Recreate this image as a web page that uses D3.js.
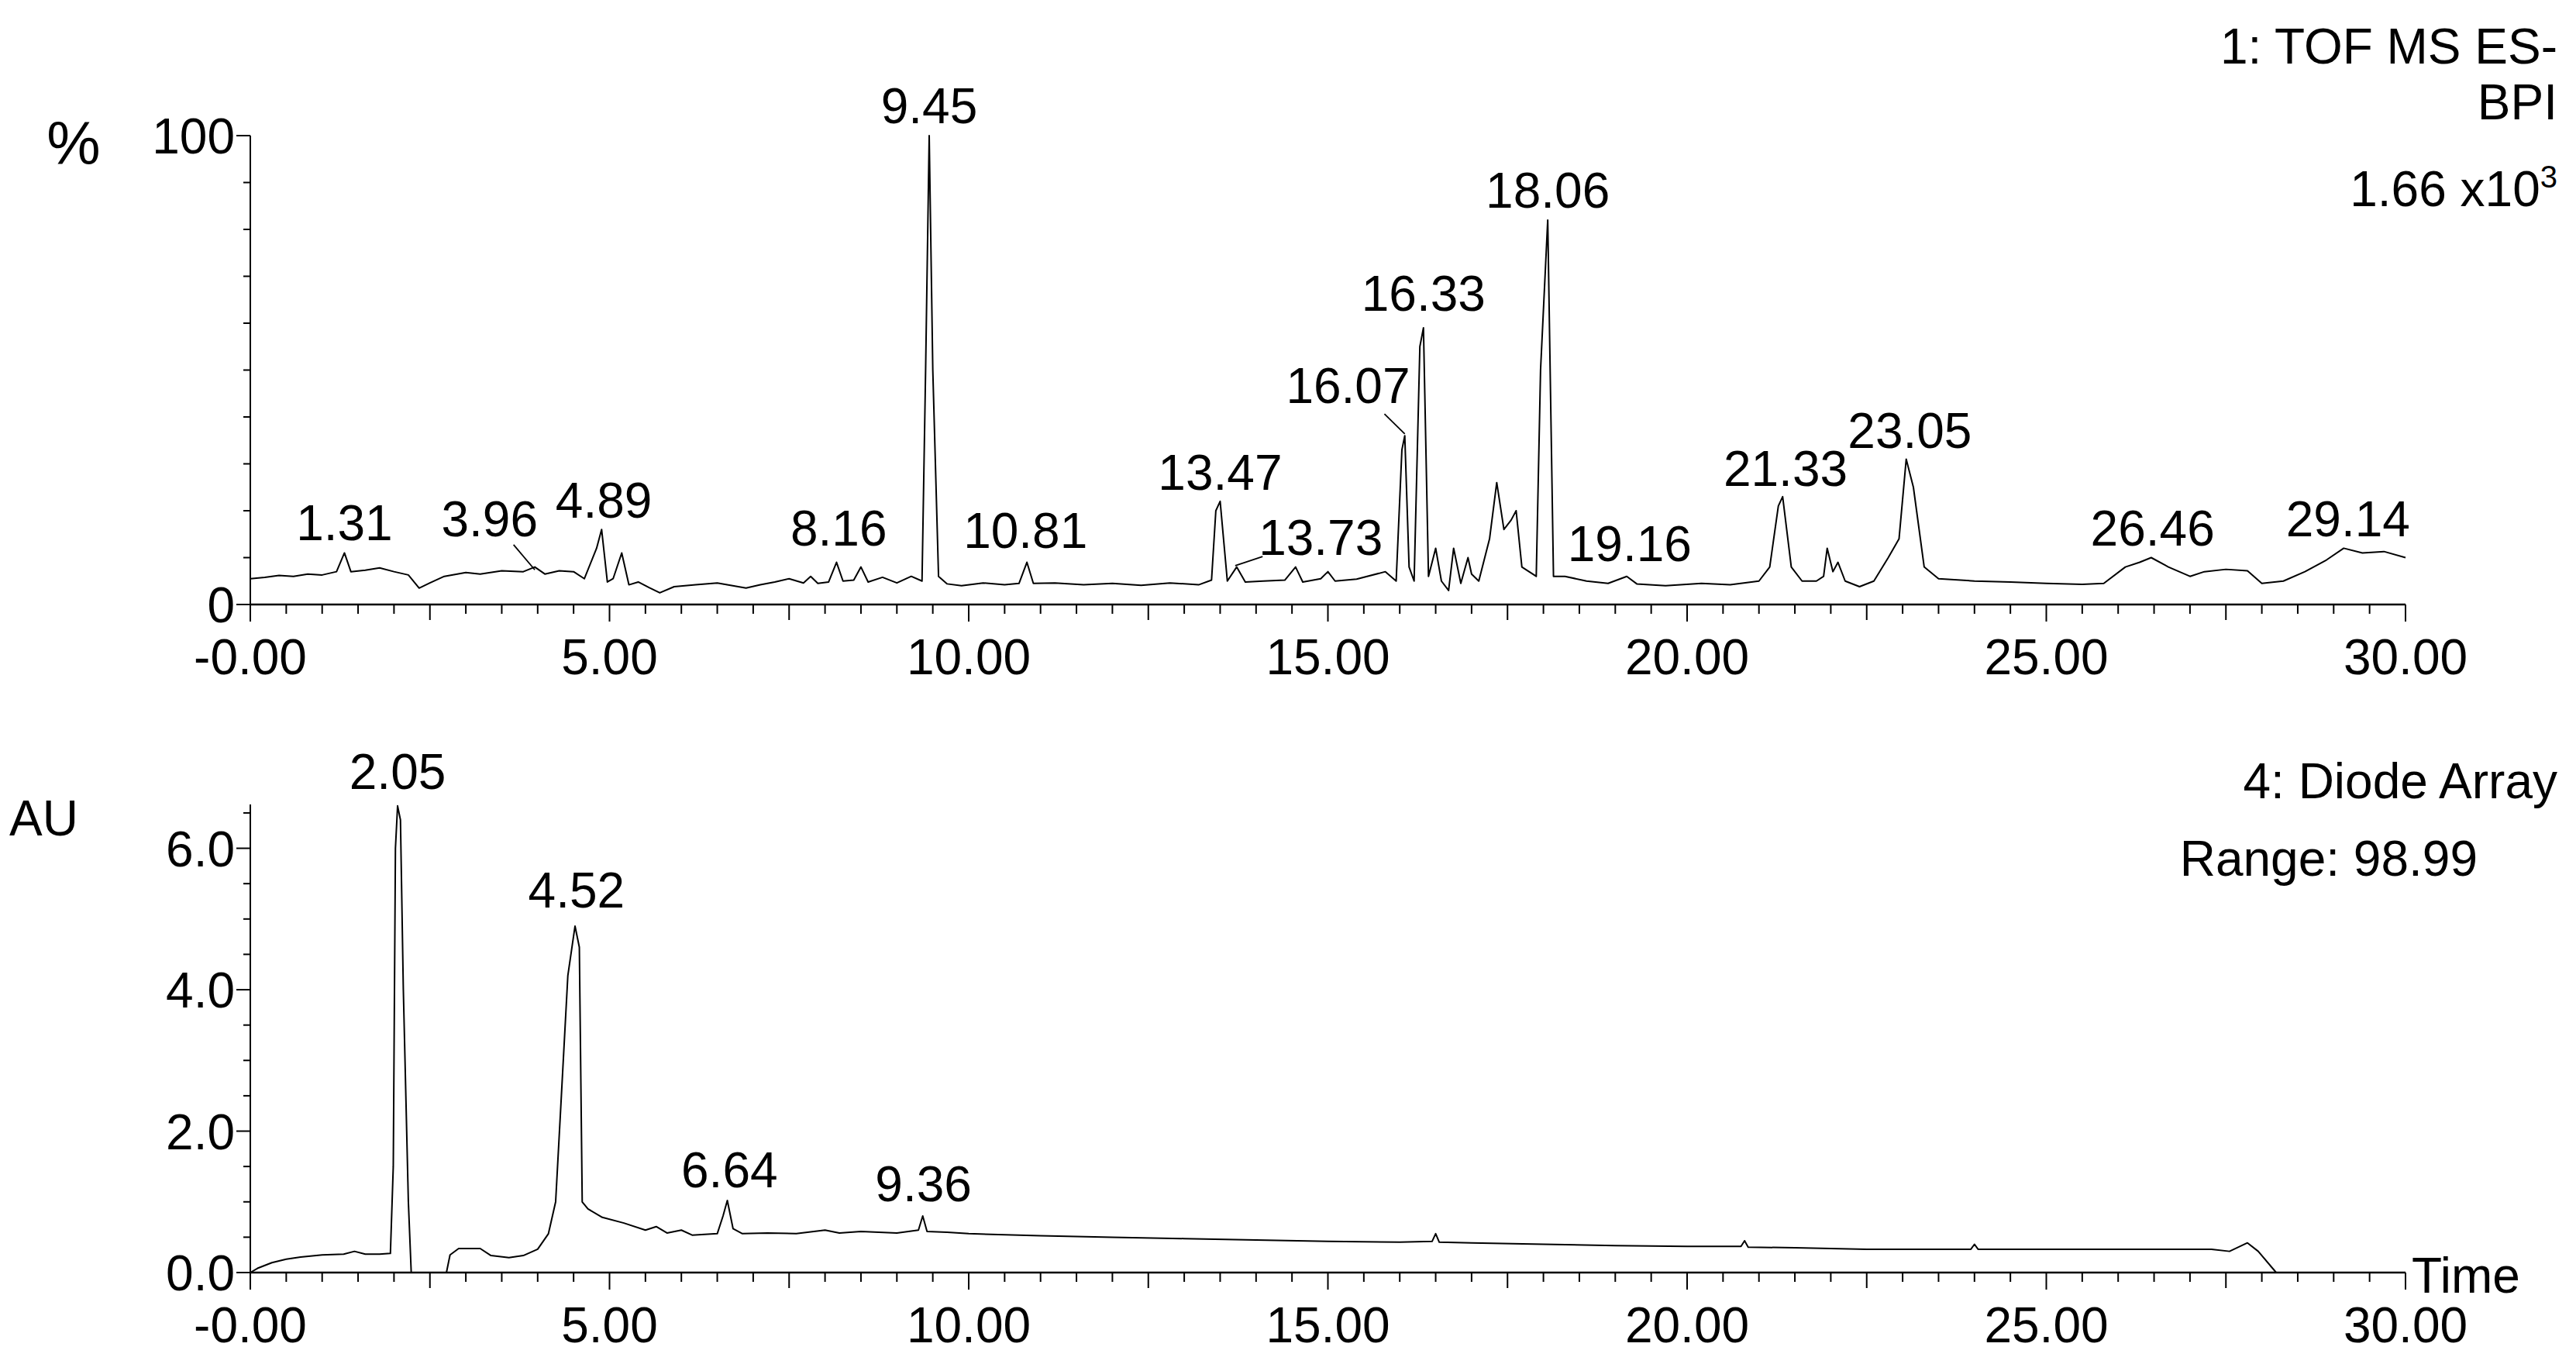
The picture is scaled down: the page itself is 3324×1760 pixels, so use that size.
<!DOCTYPE html>
<html>
<head>
<meta charset="utf-8">
<script src="https://cdn.jsdelivr.net/npm/d3@7"></script>
<style>
  body { margin: 0; background: #fff; }
  text { font-family: "Liberation Sans", Arial, sans-serif; fill: #000; }
</style>
</head>
<body>
<svg id="chart" width="3324" height="1760"></svg>
<script>
// BPI trace (time min, %)
const bpiTime = [0,0.2,0.4,0.6,0.8,1.0,1.2,1.31,1.4,1.6,1.8,2.0,2.2,2.35,2.5,2.7,3.0,3.2,3.5,3.8,3.96,4.1,4.3,4.5,4.65,4.82,4.89,4.97,5.05,5.17,5.27,5.4,5.55,5.7,5.9,6.2,6.5,6.9,7.1,7.3,7.5,7.7,7.8,7.9,8.05,8.16,8.25,8.4,8.5,8.6,8.8,9.0,9.2,9.35,9.4,9.45,9.5,9.58,9.7,9.9,10.2,10.5,10.7,10.81,10.9,11.2,11.6,12.0,12.4,12.8,13.2,13.38,13.44,13.5,13.6,13.73,13.85,14.1,14.4,14.55,14.65,14.9,15.0,15.1,15.4,15.8,15.95,16.03,16.07,16.13,16.2,16.28,16.33,16.4,16.5,16.58,16.68,16.75,16.85,16.95,17.0,17.1,17.25,17.35,17.45,17.55,17.62,17.7,17.9,17.96,18.06,18.14,18.3,18.6,18.9,19.16,19.3,19.7,20.2,20.6,21.0,21.15,21.27,21.33,21.45,21.6,21.8,21.9,21.95,22.03,22.1,22.2,22.4,22.6,22.8,22.95,23.05,23.15,23.3,23.5,24.0,24.5,25.0,25.5,25.8,26.1,26.3,26.46,26.7,27.0,27.2,27.5,27.8,28.0,28.3,28.6,28.9,29.14,29.4,29.7,30.0];
const bpiValue = [5.5,5.8,6.2,6.0,6.5,6.3,7.0,11.0,7.0,7.3,7.8,7.0,6.3,3.5,4.6,6.0,6.8,6.5,7.2,7.0,8.0,6.5,7.2,7.0,5.5,12.0,16.0,4.8,5.5,11.0,4.2,4.8,3.6,2.5,3.8,4.2,4.6,3.5,4.2,4.8,5.5,4.6,6.0,4.5,4.8,9.0,5.0,5.2,8.0,4.8,5.8,4.6,6.0,5.0,50,100,50,6.0,4.4,4.0,4.6,4.2,4.5,9.0,4.5,4.6,4.2,4.5,4.1,4.6,4.2,5.2,20,22,5.0,8.0,4.8,5.0,5.2,8.0,4.8,5.5,7.0,5.0,5.4,7.0,5.0,33,36,8.0,5.0,55,59,6.0,12.0,5.0,3.0,12.0,4.5,10.0,6.5,5.0,14,26,16,18,20,8.0,6.0,50,82,6.0,6.0,5.0,4.5,6.0,4.4,4.0,4.5,4.2,5.0,8.0,21,23,8.0,5.0,5.0,6.0,12.0,7.0,9.0,5.0,3.8,5.0,10.0,14.0,31,25,8.0,5.5,5.0,4.8,4.5,4.3,4.5,8.0,9.0,10.0,8.0,6.0,7.0,7.5,7.2,4.5,5.0,7.0,9.5,12.0,11.0,11.3,10.0];

// Diode array trace (time min, AU)
const dadTime = [0,0.1,0.3,0.5,0.7,1.0,1.3,1.45,1.6,1.8,1.95,1.99,2.02,2.05,2.09,2.13,2.2,2.24,2.5,2.73,2.78,2.9,3.2,3.35,3.6,3.8,4.0,4.15,4.25,4.33,4.42,4.52,4.58,4.62,4.7,4.9,5.2,5.5,5.65,5.8,6.0,6.15,6.5,6.58,6.64,6.72,6.85,7.2,7.6,8.0,8.2,8.5,9.0,9.3,9.36,9.42,9.7,10.0,11.0,12.0,13.0,14.0,15.0,16.0,16.45,16.5,16.55,17.0,18.0,19.0,20.0,20.75,20.8,20.85,21.5,22.5,23.5,23.95,24.0,24.05,25.0,26.0,27.3,27.55,27.8,27.95,28.2,28.5,29.0,30.0];
const dadValue = [0.0,0.06,0.14,0.19,0.22,0.25,0.26,0.3,0.26,0.26,0.27,1.5,6.0,6.6,6.4,4.0,1.0,0.0,0.0,0.0,0.25,0.34,0.34,0.24,0.21,0.24,0.33,0.55,1.0,2.5,4.2,4.9,4.6,1.0,0.9,0.78,0.7,0.6,0.65,0.56,0.6,0.53,0.55,0.8,1.02,0.62,0.55,0.56,0.55,0.6,0.56,0.58,0.56,0.6,0.8,0.58,0.57,0.55,0.52,0.5,0.48,0.46,0.44,0.43,0.44,0.55,0.43,0.42,0.4,0.38,0.37,0.37,0.45,0.36,0.35,0.33,0.33,0.33,0.4,0.33,0.33,0.33,0.33,0.3,0.42,0.3,0.0,0.0,0.0,0.0];

// peak labels: text, x position of label (min), baseline height (data units)
// lead: [peak time, peak value, start dx px, start dy px] for labels pushed aside
const bpiLabels = [
  {text: "1.31", t: 1.31, v: 13},
  {text: "3.96", t: 3.33, v: 13.9, lead: [3.96, 7.4, 31, 7]},
  {text: "4.89", t: 4.92, v: 17.9},
  {text: "8.16", t: 8.19, v: 11.9},
  {text: "9.45", t: 9.45, v: 102},
  {text: "10.81", t: 10.79, v: 11.4},
  {text: "13.47", t: 13.5, v: 23.8},
  {text: "13.73", t: 14.9, v: 9.9, lead: [13.71, 8.3, -75, -2]},
  {text: "16.07", t: 15.28, v: 42.3, lead: [16.07, 36.4, 47, 10]},
  {text: "16.33", t: 16.33, v: 62},
  {text: "18.06", t: 18.06, v: 84},
  {text: "19.16", t: 19.2, v: 8.6},
  {text: "21.33", t: 21.37, v: 24.6},
  {text: "23.05", t: 23.1, v: 32.7},
  {text: "26.46", t: 26.48, v: 11.9},
  {text: "29.14", t: 29.2, v: 13.9}
];
const dadLabels = [
  {text: "2.05", t: 2.05, v: 6.8},
  {text: "4.52", t: 4.54, v: 5.12},
  {text: "6.64", t: 6.67, v: 1.16},
  {text: "9.36", t: 9.37, v: 0.96}
];

const xTickLabels = ["-0.00", "5.00", "10.00", "15.00", "20.00", "25.00", "30.00"];
const bpiYTicks = [0, 100];
const dadYTicks = [0, 2, 4, 6];

const svg = d3.select("#chart");
const fs = 64;

const x = d3.scaleLinear().domain([0, 30]).range([323, 3104]);
const yTop = d3.scaleLinear().domain([0, 100]).range([780, 175]);
const yBot = d3.scaleLinear().domain([0, 6.62]).range([1642, 1038]);

function drawPanel(y, times, values, labels, yTicks, yMinor, yFmt, yMax) {
  const g = svg.append("g");
  // x axis line
  g.append("line").attr("x1", x(0)).attr("x2", x(30))
    .attr("y1", y(0)).attr("y2", y(0)).attr("stroke", "#000").attr("stroke-width", 2.5);
  // y axis line
  g.append("line").attr("x1", x(0)).attr("x2", x(0))
    .attr("y1", y(0)).attr("y2", y(yMax)).attr("stroke", "#000").attr("stroke-width", 2);

  // x ticks every 0.5 min
  d3.range(0, 30.01, 0.5).forEach(t => {
    const len = (Math.abs(t % 5) < 1e-6) ? 22 : (Math.abs(t % 2.5) < 1e-6 ? 20 : 12);
    g.append("line").attr("x1", x(t)).attr("x2", x(t))
      .attr("y1", y(0)).attr("y2", y(0) + len).attr("stroke", "#000").attr("stroke-width", 2);
  });
  xTickLabels.forEach((s, i) => {
    g.append("text").attr("x", x(i * 5)).attr("y", y(0) + 90)
      .attr("text-anchor", "middle").attr("font-size", fs).text(s);
  });

  // y ticks
  yMinor.forEach(v => {
    const major = yTicks.includes(v);
    g.append("line").attr("x1", x(0) - (major ? 18 : 9)).attr("x2", x(0))
      .attr("y1", y(v)).attr("y2", y(v)).attr("stroke", "#000").attr("stroke-width", 2);
  });
  yTicks.forEach(v => {
    g.append("text").attr("x", x(0) - 20).attr("y", y(v)).attr("dy", "0.36em")
      .attr("text-anchor", "end").attr("font-size", fs).text(yFmt(v));
  });

  // trace
  const pts = times.map((t, i) => [t, values[i]]);
  g.append("path").datum(pts)
    .attr("d", d3.line().x(d => x(d[0])).y(d => y(d[1])))
    .attr("fill", "none").attr("stroke", "#000").attr("stroke-width", 2)
    .attr("stroke-linejoin", "round");

  // peak labels
  labels.forEach(l => {
    g.append("text").attr("x", x(l.t)).attr("y", y(l.v) - 4)
      .attr("text-anchor", "middle").attr("font-size", fs).text(l.text);
    if (l.lead) {
      g.append("line")
        .attr("x1", x(l.t) + l.lead[2]).attr("y1", y(l.v) + l.lead[3])
        .attr("x2", x(l.lead[0])).attr("y2", y(l.lead[1]))
        .attr("stroke", "#000").attr("stroke-width", 1.8);
    }
  });
  return g;
}

drawPanel(yTop, bpiTime, bpiValue, bpiLabels, bpiYTicks, d3.range(0, 101, 10), d => d, 100);
drawPanel(yBot, dadTime, dadValue, dadLabels, dadYTicks, d3.range(0, 6.51, 0.5), d => d.toFixed(1), 6.62);

// panel annotations
svg.append("text").attr("x", 95).attr("y", 212).attr("text-anchor", "middle")
  .attr("font-size", 78).text("%");
svg.append("text").attr("x", 12).attr("y", 1078).attr("font-size", fs).text("AU");

svg.append("text").attr("x", 3300).attr("y", 82).attr("text-anchor", "end")
  .attr("font-size", fs).text("1: TOF MS ES-");
svg.append("text").attr("x", 3300).attr("y", 154).attr("text-anchor", "end")
  .attr("font-size", fs).text("BPI");
const sci = svg.append("text").attr("x", 3300).attr("y", 266).attr("text-anchor", "end")
  .attr("font-size", fs);
sci.append("tspan").text("1.66 x10");
sci.append("tspan").attr("dy", -24).attr("font-size", 40).text("3");

svg.append("text").attr("x", 3300).attr("y", 1030).attr("text-anchor", "end")
  .attr("font-size", fs).text("4: Diode Array");
svg.append("text").attr("x", 3197).attr("y", 1130).attr("text-anchor", "end")
  .attr("font-size", fs).text("Range: 98.99");
svg.append("text").attr("x", 3112).attr("y", 1668).attr("font-size", fs).text("Time");
</script>
</body>
</html>
